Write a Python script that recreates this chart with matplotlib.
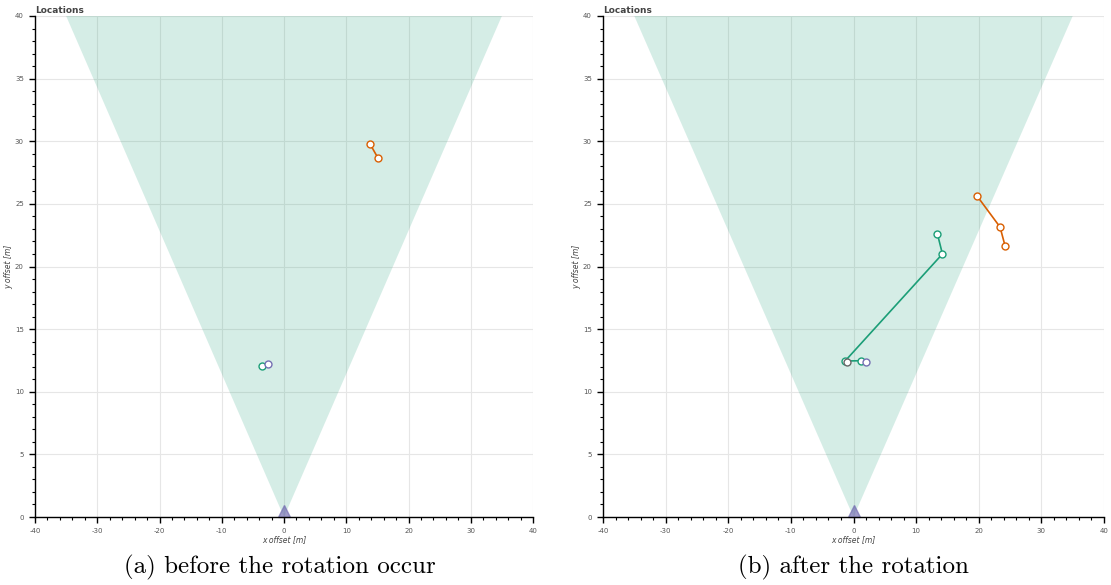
import numpy as np
import matplotlib
matplotlib.use("Agg")
import matplotlib.pyplot as plt
from matplotlib.ticker import MultipleLocator

plt.rcParams['axes.unicode_minus'] = False

# field of view cone (apex at the sensor)
cone_x = [0, -35, 35]
cone_y = [0, 40, 40]

# (a) before the rotation
a_orange_x = [13.8, 15.05]
a_orange_y = [29.8, 28.7]
a_green_x = [-3.6]
a_green_y = [12.05]
a_purple_x = [-2.6]
a_purple_y = [12.2]

# (b) after the rotation
b_orange_x = [19.7, 23.4, 24.2]
b_orange_y = [25.65, 23.15, 21.65]
b_green_x = [13.4, 14.2, -1.35, 1.2]
b_green_y = [22.6, 21.0, 12.45, 12.48]
b_grey_x = [-1.1]
b_grey_y = [12.4]
b_purple_x = [1.95]
b_purple_y = [12.4]

captions = ["(a) before the rotation occur", "(b) after the rotation"]

GREEN = "#1b9e77"
ORANGE = "#d95f02"
PURPLE = "#7570b3"
GREY = "#666666"


def style_axes(ax):
    ax.set_xlim(-40, 40)
    ax.set_ylim(0, 40)
    ax.xaxis.set_major_locator(MultipleLocator(10))
    ax.xaxis.set_minor_locator(MultipleLocator(2))
    ax.yaxis.set_major_locator(MultipleLocator(5))
    ax.yaxis.set_minor_locator(MultipleLocator(1))
    for s in ["top", "right"]:
        ax.spines[s].set_visible(False)
    for s in ["left", "bottom"]:
        ax.spines[s].set_linewidth(1.0)
        ax.spines[s].set_color("black")
    ax.tick_params(which="major", length=4, width=1, labelsize=5,
                   labelcolor="#555555", pad=4)
    ax.tick_params(which="minor", length=2, width=0.8)
    ax.grid(True, which="major", color="#e6e6e6", linewidth=0.8)
    ax.set_axisbelow(True)
    ax.set_xlabel("x offset [m]", fontsize=5.5, fontstyle="italic", color="#444444", labelpad=1)
    ax.set_ylabel("y offset [m]", fontsize=5.5, fontstyle="italic", color="#444444", labelpad=1)
    ax.set_title("Locations", loc="left", fontsize=6.5, fontweight="bold",
                 color="#444444", pad=2, x=0.0)
    ax.fill(cone_x, cone_y, color=GREEN, alpha=0.18, linewidth=0, zorder=1)
    ax.plot([0], [0.5], marker="^", color=PURPLE, alpha=0.7, markersize=8,
            linestyle="none", zorder=2, clip_on=False)


def track(ax, xs, ys, color):
    ax.plot(xs, ys, color=color, linewidth=1.2, marker="o", markersize=5,
            markerfacecolor="white", markeredgecolor=color, markeredgewidth=1.0,
            zorder=3)


fig = plt.figure(figsize=(11.11, 5.85), dpi=100)
W, H = 1111, 585
ax1 = fig.add_axes([35 / W, 1 - 517 / H, 498 / W, 501 / H])
ax2 = fig.add_axes([603 / W, 1 - 517 / H, 501 / W, 501 / H])

style_axes(ax1)
track(ax1, a_orange_x, a_orange_y, ORANGE)
track(ax1, a_green_x, a_green_y, GREEN)
track(ax1, a_purple_x, a_purple_y, PURPLE)

style_axes(ax2)
track(ax2, b_orange_x, b_orange_y, ORANGE)
track(ax2, b_green_x, b_green_y, GREEN)
track(ax2, b_grey_x, b_grey_y, GREY)
track(ax2, b_purple_x, b_purple_y, PURPLE)

fig.text(280 / W, 1 - 567 / H, captions[0], ha="center", va="center",
         fontsize=18, family=["cmr10", "DejaVu Serif"])
fig.text(853 / W, 1 - 567 / H, captions[1], ha="center", va="center",
         fontsize=18, family=["cmr10", "DejaVu Serif"])

fig.savefig("out.png", dpi=100)
